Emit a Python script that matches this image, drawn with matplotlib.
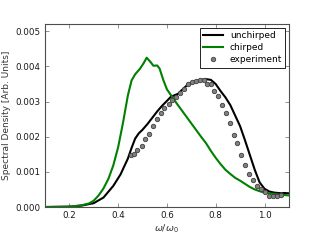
import matplotlib
matplotlib.use("Agg")
import matplotlib.pyplot as plt
from matplotlib.ticker import FormatStrFormatter

unchirped_x = [0.10, 0.20, 0.25, 0.30, 0.34, 0.38, 0.41, 0.44, 0.455, 0.47, 0.485, 0.50, 0.52, 0.54,
               0.56, 0.58, 0.60, 0.615, 0.63, 0.645, 0.66, 0.68, 0.70, 0.72, 0.74, 0.76, 0.78, 0.80,
               0.82, 0.84, 0.86, 0.88, 0.90, 0.92, 0.94, 0.96, 0.98, 1.00, 1.02, 1.04, 1.07, 1.08, 1.10]
unchirped_y = [0.0, 0.00001, 0.00004, 0.00011, 0.00027, 0.0006, 0.00093, 0.00138, 0.00168, 0.00195,
               0.0021, 0.0022, 0.00236, 0.00254, 0.00272, 0.00288, 0.00302, 0.00313, 0.00318, 0.00322,
               0.00332, 0.00345, 0.00354, 0.00358, 0.00362, 0.00364, 0.00362, 0.0035, 0.0033, 0.00312,
               0.0029, 0.0026, 0.0023, 0.0019, 0.00148, 0.00106, 0.0007, 0.00052, 0.00044, 0.00041,
               0.00039, 0.0004, 0.00039]

chirped_x = [0.10, 0.20, 0.25, 0.28, 0.30, 0.32, 0.34, 0.36, 0.38, 0.40, 0.42, 0.44, 0.455, 0.47, 0.49,
             0.505, 0.517, 0.53, 0.545, 0.56, 0.57, 0.585, 0.60, 0.62, 0.64, 0.66, 0.68, 0.70, 0.72,
             0.74, 0.76, 0.78, 0.80, 0.82, 0.84, 0.86, 0.88, 0.90, 0.92, 0.94, 0.96, 0.98, 1.00,
             1.04, 1.10]
chirped_y = [0.0, 0.00001, 0.00005, 0.0001, 0.00018, 0.00033, 0.00053, 0.0008, 0.00118, 0.0017,
             0.0024, 0.00318, 0.0036, 0.00378, 0.00394, 0.0041, 0.00425, 0.00415, 0.00402, 0.00403,
             0.00394, 0.00362, 0.00335, 0.00315, 0.00295, 0.00276, 0.00257, 0.00238, 0.00219,
             0.002, 0.00182, 0.0016, 0.0014, 0.00122, 0.00106, 0.00094, 0.00083, 0.00075, 0.00066,
             0.00057, 0.0005, 0.00045, 0.00041, 0.00037, 0.00033]

exp_x = [0.451, 0.464, 0.478, 0.496, 0.512, 0.528, 0.543, 0.559, 0.576, 0.590, 0.607, 0.620, 0.638,
         0.654, 0.672, 0.688, 0.702, 0.719, 0.736, 0.752, 0.764, 0.779, 0.795, 0.810, 0.826, 0.843,
         0.858, 0.874, 0.889, 0.905, 0.922, 0.936, 0.952, 0.969, 0.985, 1.001, 1.018, 1.034, 1.050,
         1.066]
exp_y = [0.00147, 0.00152, 0.00161, 0.00175, 0.00193, 0.00207, 0.0023, 0.00251, 0.00269, 0.00283,
         0.00294, 0.00304, 0.00313, 0.00324, 0.00337, 0.00351, 0.00356, 0.00358, 0.00361, 0.00362,
         0.0035, 0.0035, 0.0033, 0.00315, 0.0029, 0.00267, 0.00239, 0.00206, 0.00182, 0.00147,
         0.00121, 0.00093, 0.00076, 0.00059, 0.0005, 0.00043, 0.00032, 0.0003, 0.0003, 0.00033]

plt.rcParams['font.size'] = 6
plt.rcParams['mathtext.fontset'] = 'dejavusans'

fig = plt.figure(figsize=(3.21, 2.41), dpi=100)
ax = fig.add_axes([0.14, 0.141, 0.76, 0.758])

ax.plot(unchirped_x, unchirped_y, color='black', lw=1.5, label='unchirped')
ax.plot(chirped_x, chirped_y, color=(0, 0.5, 0), lw=1.5, label='chirped')
ax.plot(exp_x, exp_y, 'o', ls='none', color='0.5', mec='0.25', mew=0.6, ms=3.2, label='experiment')

ax.set_xlim(0.1, 1.1)
ax.set_ylim(0, 0.0052)
ax.set_xticks([0.2, 0.4, 0.6, 0.8, 1.0])
ax.set_yticks([0, 0.001, 0.002, 0.003, 0.004, 0.005])
ax.yaxis.set_major_formatter(FormatStrFormatter('%.3f'))
ax.tick_params(direction='in', top=True, right=True, length=3, width=0.5, color='0.4',
               labelsize=6.3, labelcolor='0.1', pad=3)
for s in ax.spines.values():
    s.set_color('0.3')
    s.set_linewidth(0.8)

ax.set_xlabel(r'$\omega/\omega_0$', fontsize=6.8, color='0.2', labelpad=2)
ax.set_ylabel('Spectral Density [Arb. Units]', fontsize=6.5, color='0.2', labelpad=3)

leg = ax.legend(loc='upper right', numpoints=1, fancybox=False, framealpha=1, edgecolor='black',
                fontsize=6.5, handlelength=2.2, borderaxespad=0.4, borderpad=0.35, labelspacing=0.35)
leg.get_frame().set_linewidth(0.6)

fig.savefig('out.png', dpi=100)
